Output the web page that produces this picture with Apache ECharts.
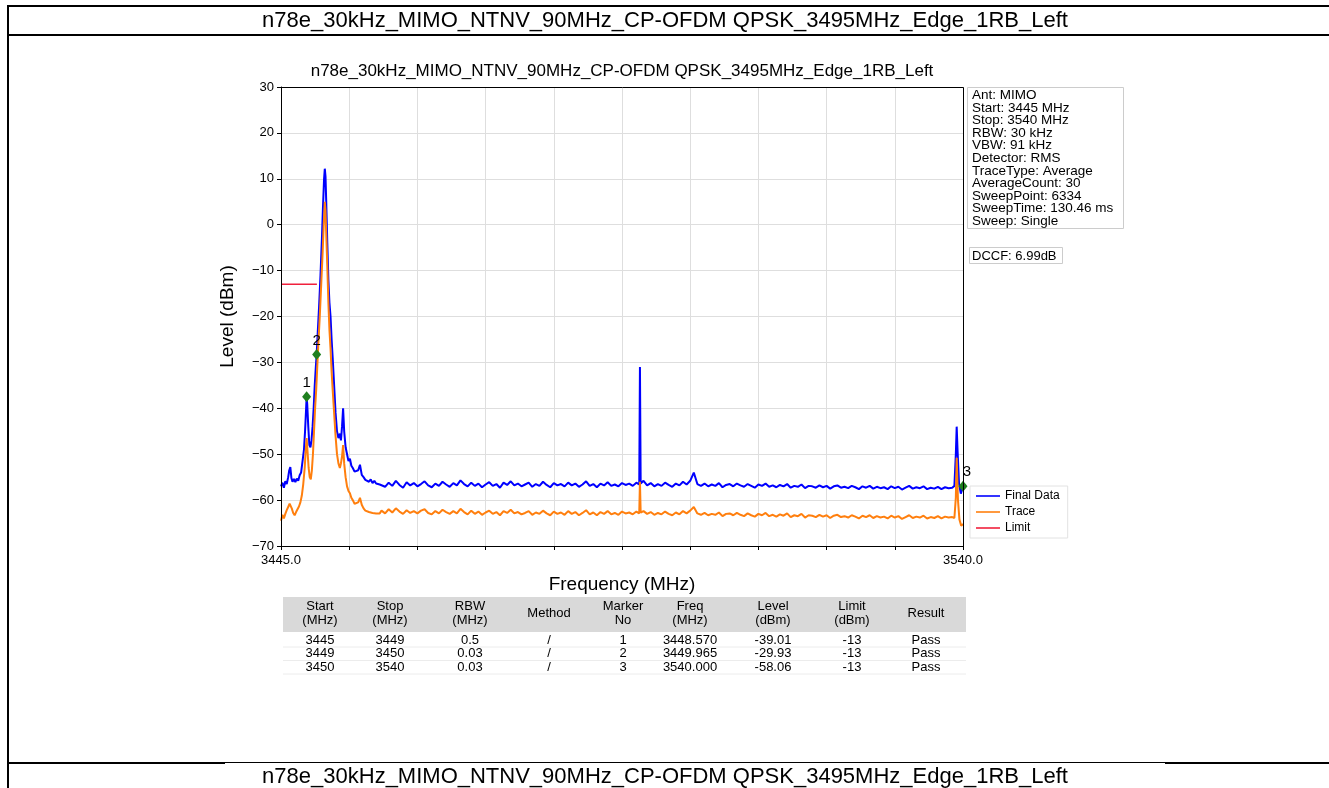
<!DOCTYPE html>
<html>
<head>
<meta charset="utf-8">
<title>n78e spectrum</title>
<script src="https://cdn.jsdelivr.net/npm/echarts@6/dist/echarts.min.js"></script>
<style>
    html, body { margin: 0; padding: 0; background: #fff; }
    #chart { width: 1329px; height: 788px; }
</style>
</head>
<body>
<div id="chart"></div>
<script>
const pageTitle = 'n78e_30kHz_MIMO_NTNV_90MHz_CP-OFDM QPSK_3495MHz_Edge_1RB_Left';
const plotTitle = 'n78e_30kHz_MIMO_NTNV_90MHz_CP-OFDM QPSK_3495MHz_Edge_1RB_Left';

const freqStart = 3445;
const freqStop = 3540;

// peak region (dense)
const finalPeak = [
    [3445.0,-57.0],[3445.2,-56.2],[3445.4,-57.3],[3445.6,-55.9],[3445.8,-56.5],[3446.0,-55.0],[3446.15,-53.5],[3446.3,-52.8],
    [3446.45,-55.2],[3446.6,-56.0],[3446.8,-55.4],[3447.0,-56.1],[3447.2,-55.3],[3447.4,-55.8],[3447.6,-54.6],[3447.8,-54.0],
    [3448.0,-51.5],[3448.2,-49.0],[3448.35,-45.0],[3448.5,-40.0],[3448.57,-37.5],[3448.65,-39.0],[3448.8,-44.0],[3448.95,-48.0],
    [3449.1,-48.5],[3449.25,-47.0],[3449.4,-44.0],[3449.55,-40.0],[3449.7,-35.0],[3449.85,-31.0],[3449.965,-28.3],[3450.1,-24.0],
    [3450.3,-18.0],[3450.5,-11.0],[3450.7,-3.0],[3450.85,4.0],[3451.0,10.0],[3451.1,12.2],[3451.2,10.5],[3451.3,5.0],
    [3451.45,-4.0],[3451.6,-12.0],[3451.75,-17.0],[3451.9,-20.0],[3452.05,-25.0],[3452.2,-29.0],[3452.4,-35.0],[3452.6,-41.0],
    [3452.8,-45.0],[3453.0,-46.5],[3453.2,-45.5],[3453.35,-47.0],[3453.5,-44.0],[3453.65,-40.0],[3453.8,-45.0],[3454.0,-48.5],
    [3454.2,-50.0],[3454.4,-51.5],[3454.6,-51.0],[3454.8,-52.5],[3455.0,-53.0],[3455.25,-53.8],[3455.5,-54.2],[3455.75,-53.5],
    [3456.0,-52.3],[3456.25,-54.5],[3456.5,-55.0],[3456.75,-55.6],[3457.0,-55.2],[3457.25,-56.0],[3457.5,-55.5],[3457.75,-56.3],
    [3458.0,-55.8],[3458.25,-56.4],[3458.5,-56.0],[3458.75,-56.6]
];
const tracePeak = [
    [3445.0,-64.5],[3445.2,-63.2],[3445.4,-64.0],[3445.6,-63.0],[3445.8,-62.2],[3446.0,-61.5],[3446.2,-60.8],[3446.35,-60.5],
    [3446.5,-61.8],[3446.7,-62.8],[3446.9,-63.3],[3447.1,-62.6],[3447.3,-62.0],[3447.5,-61.4],[3447.7,-60.5],[3447.9,-59.0],
    [3448.1,-56.5],[3448.3,-53.0],[3448.45,-49.0],[3448.57,-46.5],[3448.7,-49.5],[3448.85,-53.0],[3449.0,-55.0],[3449.15,-55.5],
    [3449.3,-53.5],[3449.45,-50.0],[3449.6,-45.0],[3449.75,-40.0],[3449.9,-36.0],[3450.05,-31.0],[3450.2,-26.0],[3450.4,-20.0],
    [3450.6,-13.0],[3450.8,-6.0],[3450.95,0.0],[3451.1,5.0],[3451.2,3.0],[3451.3,-2.0],[3451.45,-9.0],[3451.6,-17.0],
    [3451.75,-23.0],[3451.9,-27.0],[3452.05,-32.0],[3452.2,-36.0],[3452.4,-41.0],[3452.6,-46.0],[3452.8,-50.0],[3453.0,-52.0],
    [3453.2,-53.0],[3453.35,-52.0],[3453.5,-50.5],[3453.65,-48.0],[3453.8,-52.0],[3454.0,-55.0],[3454.2,-57.0],[3454.4,-58.0],
    [3454.6,-58.5],[3454.8,-59.5],[3455.0,-60.0],[3455.25,-60.8],[3455.5,-61.2],[3455.75,-60.5],[3456.0,-59.5],[3456.25,-61.0],
    [3456.5,-61.8],[3456.75,-62.3],[3457.0,-61.9],[3457.25,-62.6],[3457.5,-62.2],[3457.75,-62.8],[3458.0,-62.4],[3458.25,-62.9],
    [3458.5,-62.5],[3458.75,-62.9]
];

// flat noise floor region
const flatFreq = [
    3459.0,3459.5,3460.0,3460.5,3461.0,3461.5,3462.0,3462.5,3463.0,3463.5,
    3464.0,3464.5,3465.0,3465.5,3466.0,3466.5,3467.0,3467.5,3468.0,3468.5,
    3469.0,3469.5,3470.0,3470.5,3471.0,3471.5,3472.0,3472.5,3473.0,3473.5,
    3474.0,3474.5,3475.0,3475.5,3476.0,3476.5,3477.0,3477.5,3478.0,3478.5,
    3479.0,3479.5,3480.0,3480.5,3481.0,3481.5,3482.0,3482.5,3483.0,3483.5,
    3484.0,3484.5,3485.0,3485.5,3486.0,3486.5,3487.0,3487.5,3488.0,3488.5,
    3489.0,3489.5,3490.0,3490.5,3491.0,3491.5,3492.0,3492.5,3493.0,3493.5,
    3494.0,3494.5,3494.9,3495.0,3495.1,3495.5,3496.0,3496.5,3497.0,3497.5,3498.0,3498.5,
    3499.0,3499.5,3500.0,3500.5,3501.0,3501.5,3502.0,3502.5,3503.0,3503.5,
    3504.0,3504.5,3505.0,3505.5,3506.0,3506.5,3507.0,3507.5,3508.0,3508.5,
    3509.0,3509.5,3510.0,3510.5,3511.0,3511.5,3512.0,3512.5,3513.0,3513.5,
    3514.0,3514.5,3515.0,3515.5,3516.0,3516.5,3517.0,3517.5,3518.0,3518.5,
    3519.0,3519.5,3520.0,3520.5,3521.0,3521.5,3522.0,3522.5,3523.0,3523.5,
    3524.0,3524.5,3525.0,3525.5,3526.0,3526.5,3527.0,3527.5,3528.0,3528.5,
    3529.0,3529.5,3530.0,3530.5,3531.0,3531.5,3532.0,3532.5,3533.0,3533.5,
    3534.0,3534.5,3535.0,3535.5,3536.0,3536.5,3537.0,3537.5,3538.0,3538.5
];
const finalFlat = [
    -56.4,-57.1,-56.2,-56.9,-55.8,-56.7,-57.3,-56.1,-56.8,-56.3,
    -57.0,-56.5,-55.9,-56.8,-57.2,-56.4,-56.9,-56.0,-56.6,-57.1,
    -56.3,-56.8,-55.7,-56.5,-57.0,-56.2,-56.9,-56.4,-57.2,-56.6,
    -56.1,-56.9,-56.5,-57.3,-56.2,-56.7,-55.9,-56.8,-56.4,-57.0,
    -56.6,-56.2,-57.1,-56.5,-56.9,-56.0,-56.7,-57.2,-56.3,-56.8,
    -56.5,-57.0,-56.2,-56.8,-56.4,-57.1,-56.6,-55.9,-56.9,-56.5,
    -57.2,-56.4,-56.8,-56.1,-56.9,-56.6,-57.0,-56.3,-56.7,-56.4,
    -56.9,-56.2,-56.6,-31.0,-56.4,-55.8,-56.8,-56.3,-57.0,-56.5,-56.9,-56.2,
    -56.7,-57.1,-56.4,-56.8,-56.0,-56.6,-55.8,-54.0,-56.5,-56.9,
    -56.4,-57.0,-56.6,-56.9,-56.3,-57.2,-56.7,-56.5,-57.0,-56.4,
    -56.8,-57.1,-56.5,-56.9,-57.3,-56.6,-56.9,-56.4,-57.1,-56.8,
    -57.2,-56.7,-57.0,-56.5,-57.3,-56.9,-57.1,-56.6,-57.4,-56.9,
    -57.0,-57.3,-56.8,-57.2,-56.9,-57.5,-57.0,-56.8,-57.3,-57.1,
    -57.4,-56.9,-57.2,-57.6,-57.0,-57.3,-56.9,-57.5,-57.1,-57.4,
    -57.2,-57.6,-57.0,-57.4,-57.1,-57.7,-57.3,-56.9,-57.5,-57.2,
    -57.4,-57.0,-57.6,-57.3,-57.5,-57.1,-57.6,-57.2,-57.4,-57.3
];
const traceFlat = [
    -62.3,-62.9,-62.0,-62.7,-61.8,-62.5,-63.0,-62.2,-62.8,-62.4,
    -62.9,-62.3,-62.0,-62.8,-63.1,-62.4,-62.9,-62.1,-62.6,-63.0,
    -62.4,-62.9,-61.9,-62.6,-63.1,-62.3,-63.0,-62.5,-63.2,-62.7,
    -62.3,-63.0,-62.6,-63.3,-62.4,-62.8,-62.1,-62.9,-62.6,-63.1,
    -62.8,-62.4,-63.2,-62.7,-63.0,-62.3,-62.9,-63.3,-62.5,-63.0,
    -62.7,-63.2,-62.4,-63.0,-62.6,-63.3,-62.8,-62.2,-63.1,-62.7,
    -63.3,-62.6,-63.0,-62.4,-63.1,-62.8,-63.2,-62.5,-62.9,-62.7,
    -63.1,-62.5,-62.9,-56.0,-62.7,-62.4,-63.0,-62.6,-63.2,-62.8,-63.1,-62.5,
    -63.0,-63.3,-62.7,-63.1,-62.4,-62.9,-62.3,-61.5,-62.9,-63.2,
    -62.8,-63.3,-63.0,-63.2,-62.7,-63.5,-63.0,-62.9,-63.3,-62.8,
    -63.2,-63.5,-62.9,-63.3,-63.6,-63.0,-63.3,-62.8,-63.5,-63.2,
    -63.6,-63.1,-63.4,-62.9,-63.7,-63.3,-63.5,-63.0,-63.8,-63.3,
    -63.4,-63.7,-63.2,-63.6,-63.3,-63.9,-63.4,-63.2,-63.7,-63.5,
    -63.8,-63.3,-63.6,-64.0,-63.4,-63.7,-63.3,-63.9,-63.5,-63.8,
    -63.6,-64.0,-63.4,-63.8,-63.5,-64.1,-63.7,-63.3,-63.9,-63.6,
    -63.8,-63.4,-64.0,-63.7,-63.9,-63.5,-64.0,-63.6,-63.8,-63.7
];

// right band edge
const finalEdge = [[3538.8,-56.9],[3539.0,-50.0],[3539.12,-44.0],[3539.25,-49.5],[3539.45,-56.5],[3539.7,-58.6],[3540.0,-57.0]];
const traceEdge = [[3538.8,-63.9],[3539.0,-59.5],[3539.12,-50.8],[3539.3,-60.0],[3539.5,-64.2],[3539.75,-65.6],[3540.0,-65.2]];

const limitLine = [[3445, -13], [3450, -13]];

const markerNames = ['1', '2', '3'];
const markerFreq = [3448.570, 3449.965, 3540.000];
const markerLevel = [-37.5, -28.3, -57.0];

const infoLines = [
    'Ant: MIMO', 'Start: 3445 MHz', 'Stop: 3540 MHz', 'RBW: 30 kHz', 'VBW: 91 kHz',
    'Detector: RMS', 'TraceType: Average', 'AverageCount: 30', 'SweepPoint: 6334',
    'SweepTime: 130.46 ms', 'Sweep: Single'
];
const dccfText = 'DCCF: 6.99dB';

const tableHead = [
    ['Start', '(MHz)'], ['Stop', '(MHz)'], ['RBW', '(MHz)'], ['Method', ''], ['Marker', 'No'],
    ['Freq', '(MHz)'], ['Level', '(dBm)'], ['Limit', '(dBm)'], ['Result', '']
];
const tableRows = [
    ['3445', '3449', '0.5', '/', '1', '3448.570', '-39.01', '-13', 'Pass'],
    ['3449', '3450', '0.03', '/', '2', '3449.965', '-29.93', '-13', 'Pass'],
    ['3450', '3540', '0.03', '/', '3', '3540.000', '-58.06', '-13', 'Pass']
];

const font = '"Liberation Sans", Arial, sans-serif';
const plotLeft = 281, plotRight = 963, plotTop = 87, plotBottom = 546;
const colX = [320, 390, 470, 549, 623, 690, 773, 852, 926];
const lineIcon = 'path://M0,0L30,0L30,2L0,2Z';

let finalData = finalPeak
    .concat(flatFreq.map((f, i) => [f, finalFlat[i]]))
    .concat(finalEdge);
let traceData = tracePeak
    .concat(flatFreq.map((f, i) => [f, traceFlat[i]]))
    .concat(traceEdge);

let graphics = [];

// page frame
let hline = (x1, x2, y, w) => graphics.push({
    type: 'line', shape: {x1: x1, y1: y, x2: x2, y2: y}, style: {stroke: '#000', lineWidth: w}, silent: true
});
graphics.push({type: 'line', shape: {x1: 8, y1: 6, x2: 8, y2: 788}, style: {stroke: '#000', lineWidth: 2}});
hline(7, 1329, 6, 2);
hline(7, 1329, 35, 2);
hline(7, 225, 763, 2);
hline(225, 1165, 762.5, 1);
hline(1165, 1329, 763, 2);

graphics.push({type: 'text', x: 665, y: 21, style: {text: pageTitle, font: '22px ' + font, fill: '#000', align: 'center', verticalAlign: 'middle'}});
graphics.push({type: 'text', x: 665, y: 777, style: {text: pageTitle, font: '22px ' + font, fill: '#000', align: 'center', verticalAlign: 'middle'}});

// plot title
graphics.push({type: 'text', x: (plotLeft + plotRight) / 2, y: 71, style: {text: plotTitle, font: '17px ' + font, fill: '#000', align: 'center', verticalAlign: 'middle'}});

// plot frame on top of the grid lines
graphics.push({type: 'rect', z: 10, shape: {x: plotLeft + 0.5, y: plotTop + 0.5, width: plotRight - plotLeft, height: plotBottom - plotTop}, style: {fill: null, stroke: '#000', lineWidth: 1}, silent: true});

// info box
graphics.push({type: 'rect', shape: {x: 967.5, y: 87.5, width: 156, height: 141}, style: {fill: '#fff', stroke: '#cccccc', lineWidth: 1}});
graphics.push({type: 'text', x: 972, y: 89, style: {text: infoLines.join('\n'), font: '13.5px ' + font, lineHeight: 12.6, fill: '#000', align: 'left', verticalAlign: 'top'}});
graphics.push({type: 'rect', shape: {x: 969.5, y: 247.5, width: 93, height: 16}, style: {fill: '#fff', stroke: '#cccccc', lineWidth: 1}});
graphics.push({type: 'text', x: 972, y: 256, style: {text: dccfText, font: '13px ' + font, fill: '#000', align: 'left', verticalAlign: 'middle'}});

// table
graphics.push({type: 'rect', shape: {x: 283, y: 597, width: 683, height: 35}, style: {fill: '#d9d9d9'}});
tableHead.forEach((h, i) => {
    let txt = h[1] ? h[0] + '\n' + h[1] : h[0];
    graphics.push({type: 'text', x: colX[i], y: 613, style: {text: txt, font: '13px ' + font, lineHeight: 14, fill: '#000', align: 'center', verticalAlign: 'middle'}});
});
tableRows.forEach((row, r) => {
    let y = 640 + r * 13.5;
    row.forEach((cell, i) => {
        graphics.push({type: 'text', x: colX[i], y: y, style: {text: cell, font: '13px ' + font, fill: '#000', align: 'center', verticalAlign: 'middle'}});
    });
    graphics.push({type: 'line', shape: {x1: 283, y1: y + 7, x2: 966, y2: y + 7}, style: {stroke: '#ececec', lineWidth: 1}});
});

let chart = echarts.init(document.getElementById('chart'));

let option = {
    animation: false,
    backgroundColor: '#fff',
    textStyle: {fontFamily: font},
    grid: {
        left: plotLeft,
        right: 1329 - plotRight,
        top: plotTop,
        bottom: 788 - plotBottom,
        show: false
    },
    legend: {
        orient: 'vertical',
        left: 970,
        top: 486,
        data: [
            {name: 'Final Data', icon: lineIcon},
            {name: 'Trace', icon: lineIcon},
            {name: 'Limit', icon: lineIcon}
        ],
        itemWidth: 24,
        itemHeight: 2,
        itemGap: 4,
        padding: [4, 8, 4, 6],
        backgroundColor: '#fff',
        borderColor: '#e2e2e2',
        borderWidth: 1,
        textStyle: {fontSize: 12, color: '#000', fontFamily: font}
    },
    xAxis: [{
        type: 'value',
        position: 'bottom',
        min: freqStart,
        max: freqStop,
        interval: 5,
        axisLine: {show: true, onZero: false, lineStyle: {color: '#000', width: 1}},
        axisTick: {show: false},
        splitLine: {show: false},
        axisLabel: {
            color: '#000',
            fontSize: 13,
            margin: 8,
            showMinLabel: true,
            showMaxLabel: true,
            formatter: v => (v === freqStart || v === freqStop) ? v.toFixed(1) : ''
        },
        name: 'Frequency (MHz)',
        nameLocation: 'middle',
        nameGap: 29,
        nameTextStyle: {fontSize: 19, color: '#000', fontFamily: font}
    }, {
        // 10 equal divisions for ticks and grid
        type: 'value',
        position: 'bottom',
        min: 0,
        max: 10,
        interval: 1,
        axisLine: {show: false, onZero: false},
        axisTick: {show: true, length: 4, lineStyle: {color: '#000'}},
        axisLabel: {show: false},
        splitLine: {show: true, lineStyle: {color: '#dedede', width: 1}}
    }],
    yAxis: {
        type: 'value',
        min: -70,
        max: 30,
        interval: 10,
        axisLine: {show: true, onZero: false, lineStyle: {color: '#000', width: 1}},
        axisTick: {show: true, length: 4, lineStyle: {color: '#000'}},
        splitLine: {show: true, lineStyle: {color: '#dedede', width: 1}},
        axisLabel: {
            color: '#000',
            fontSize: 13,
            margin: 7,
            formatter: v => String(v).replace('-', '\u2212')
        },
        name: 'Level (dBm)',
        nameLocation: 'middle',
        nameGap: 44,
        nameTextStyle: {fontSize: 19, color: '#000', fontFamily: font}
    },
    series: [{
        name: 'Final Data',
        type: 'line',
        data: finalData,
        symbol: 'none',
        lineStyle: {color: '#0000ff', width: 2},
        itemStyle: {color: '#0000ff'},
        z: 2
    }, {
        name: 'Trace',
        type: 'line',
        data: traceData,
        symbol: 'none',
        lineStyle: {color: '#ff7f0e', width: 2},
        itemStyle: {color: '#ff7f0e'},
        z: 3
    }, {
        name: 'Limit',
        type: 'line',
        data: limitLine,
        symbol: 'none',
        lineStyle: {color: '#f0203c', width: 1.5},
        itemStyle: {color: '#f0203c'},
        z: 4
    }, {
        name: 'Markers',
        type: 'scatter',
        symbol: 'diamond',
        symbolSize: [9, 11],
        itemStyle: {color: '#1f7f1f', opacity: 1},
        label: {
            show: true,
            position: 'top',
            distance: 1,
            formatter: '{b}',
            color: '#000',
            fontSize: 15,
            fontFamily: font
        },
        data: markerNames.map((n, i) => ({
            name: n,
            value: [markerFreq[i], markerLevel[i]],
            label: i === 2 ? {offset: [4, 0]} : {}
        })),
        z: 5
    }],
    graphic: graphics
};

chart.setOption(option);
</script>
</body>
</html>
